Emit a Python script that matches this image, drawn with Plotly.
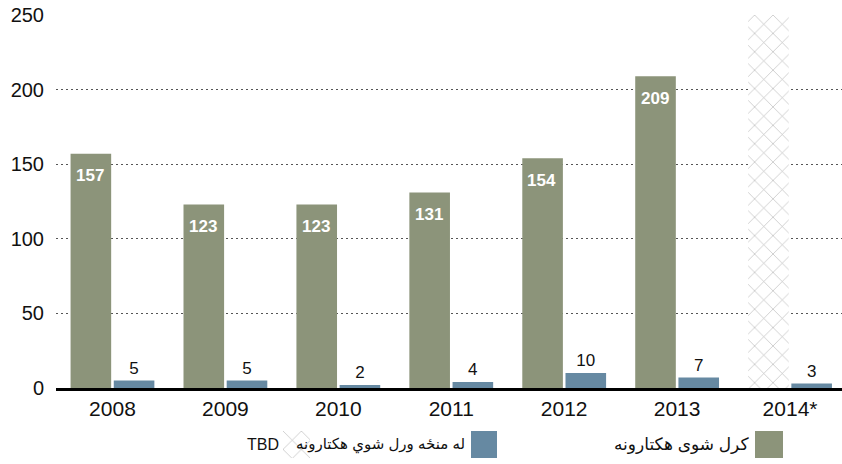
import plotly.graph_objects as go

years = ["2008", "2009", "2010", "2011", "2012", "2013", "2014*"]
cultivated = [157, 123, 123, 131, 154, 209, None]
eradicated = [5, 5, 2, 4, 10, 7, 3]
tbd = [None, None, None, None, None, None, 250]

name_cult = "كرل شوی هكتارونه"
name_erad = "له منځه ورل شوي هكتارونه"
name_tbd = "TBD"

GREEN = "#8c947a"
BLUE = "#6689a2"
HATCH = "#bababa"

W, H = 842, 464
ML, MT = 56, 15
PW, PH = W - ML, H - MT


def px_x(x):
    return (x - ML) / PW


def px_y(y):
    return (H - y) / PH


hatch = dict(shape="x", fgcolor=HATCH, fgopacity=1, bgcolor="white",
             size=13, solidity=0.1)

fig = go.Figure()

fig.add_trace(go.Bar(
    x=years, y=cultivated, name=name_cult, offsetgroup="a",
    marker=dict(color=GREEN, line=dict(width=0)),
))
fig.add_trace(go.Bar(
    x=years, y=tbd, name=name_tbd, offsetgroup="a",
    marker=dict(color="white", line=dict(width=0), pattern=hatch),
))
fig.add_trace(go.Bar(
    x=years, y=eradicated, name=name_erad, offsetgroup="b",
    marker=dict(color=BLUE, line=dict(width=0)),
    text=[str(v) for v in eradicated], textposition="outside",
    textfont=dict(family="Liberation Sans, Arial", size=17, color="#111"),
    textangle=0, cliponaxis=False,
))

# hatched legend swatch in its own tiny subplot
fig.add_trace(go.Bar(
    x=[0], y=[1], width=[1], xaxis="x2", yaxis="y2", showlegend=False,
    hoverinfo="skip",
    marker=dict(color="white", line=dict(width=0), pattern=hatch),
))

# value labels inside the top of the cultivated bars
for i, v in enumerate(cultivated):
    if v is None:
        continue
    fig.add_annotation(
        x=i, y=v, xref="x", yref="y", text=f"<b>{v}</b>", showarrow=False,
        xshift=-22.5, yshift=-22, yanchor="middle", xanchor="center",
        font=dict(family="Liberation Sans, Arial", size=17, color="white"),
    )

fig.update_layout(
    width=W, height=H,
    margin=dict(l=ML, r=0, t=MT, b=0, autoexpand=False),
    paper_bgcolor="white", plot_bgcolor="white",
    barmode="group", bargap=0.235, bargroupgap=0.06,
    showlegend=False,
    font=dict(family="Liberation Sans, DejaVu Sans, Arial", color="#111"),
    xaxis=dict(
        type="category",
        domain=[0, 1], range=[-0.5, 6.46], automargin=False,
        showline=True, linecolor="black", linewidth=3,
        showgrid=False, ticks="", tickfont=dict(size=21, color="#111"),
        fixedrange=True,
    ),
    yaxis=dict(
        domain=[px_y(388), 1], range=[0, 250], automargin=False,
        tickvals=[0, 50, 100, 150, 200, 250],
        showgrid=True, gridcolor="#555", griddash="2px,3px", gridwidth=1,
        zeroline=False, showline=False, ticks="",
        tickfont=dict(size=20, color="#111"), ticklabelstandoff=11,
    ),
    xaxis2=dict(domain=[px_x(283), px_x(310)], range=[-0.5, 0.5],
                visible=False, anchor="y2", automargin=False),
    yaxis2=dict(domain=[px_y(458), px_y(431)], range=[0, 1],
                visible=False, anchor="x2", automargin=False),
)

# legend swatches and labels (right-to-left)
for x0, x1, col in [(755, 783, GREEN), (471, 497, BLUE)]:
    fig.add_shape(type="rect", xref="paper", yref="paper",
                  x0=px_x(x0), x1=px_x(x1), y0=px_y(458), y1=px_y(431),
                  fillcolor=col, line=dict(width=0))

for xr, label, size in [(751, name_cult, 17), (467, name_erad, 15),
                        (281, name_tbd, 16)]:
    fig.add_annotation(xref="paper", yref="paper", x=px_x(xr), y=px_y(444),
                       text=label, showarrow=False, xanchor="right",
                       yanchor="middle",
                       font=dict(size=size, color="#111",
                                 family="Liberation Sans, DejaVu Sans, Arial"))

fig.write_html("out.html")
